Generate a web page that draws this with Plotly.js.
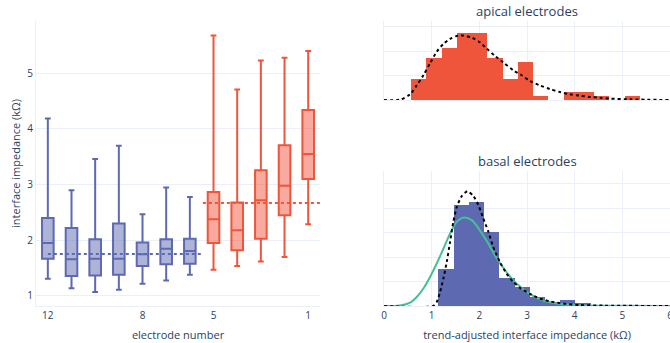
<!DOCTYPE html>
<html>
<head>
<meta charset="utf-8">
<script src="https://cdn.plot.ly/plotly-3.0.1.min.js"></script>
<style>html,body{margin:0;padding:0;background:#fff;}</style>
</head>
<body>
<div id="chart" style="width:670px;height:343px;"></div>
<script>
// ---- Box plot data (electrode number -> impedance, kΩ) ----
const basalElectrodes = [12, 11, 10, 9, 8, 7, 6];
const basalLower  = [1.31, 1.14, 1.07, 1.11, 1.22, 1.28, 1.38];
const basalQ1     = [1.67, 1.36, 1.37, 1.38, 1.54, 1.57, 1.58];
const basalMedian = [1.95, 1.66, 1.67, 1.67, 1.75, 1.85, 1.81];
const basalQ3     = [2.40, 2.22, 2.02, 2.30, 1.96, 2.02, 2.03];
const basalUpper  = [4.19, 2.90, 3.46, 3.70, 2.47, 2.95, 2.78];

const apicalElectrodes = [5, 4, 3, 2, 1];
const apicalLower  = [1.47, 1.54, 1.62, 1.70, 2.29];
const apicalQ1     = [1.95, 1.82, 2.03, 2.45, 3.10];
const apicalMedian = [2.38, 2.18, 2.72, 2.98, 3.55];
const apicalQ3     = [2.87, 2.68, 3.26, 3.71, 4.34];
const apicalUpper  = [5.68, 4.71, 5.23, 5.28, 5.40];

// mean reference lines
const basalMeanX = [12, 5.5];
const basalMeanY = [1.755, 1.755];
const apicalMeanX = [5.45, 0.5];
const apicalMeanY = [2.67, 2.67];

const xTickVals = [12, 8, 5, 1];

// ---- Histograms (probability density) ----
const apicalBinCenters = [0.726, 1.046, 1.367, 1.687, 2.007, 2.327, 2.648, 2.968, 3.288, 3.609, 3.929, 4.249, 4.570, 4.890, 5.210];
const apicalDensity    = [0.174, 0.346, 0.423, 0.552, 0.552, 0.346, 0.174, 0.314, 0.032, 0, 0.063, 0.063, 0.032, 0, 0.032];

const basalBinCenters = [1.299, 1.619, 1.938, 2.258, 2.578, 2.898, 3.217, 3.537, 3.857, 4.176];
const basalDensity    = [0.300, 0.826, 0.850, 0.604, 0.227, 0.156, 0.074, 0.030, 0.047, 0.022];

// ---- Fitted curves ----
const apicalFitX = [0, 0.34, 0.545, 0.685, 0.825, 0.965, 1.105, 1.245, 1.385, 1.56, 1.66, 1.84, 2.01, 2.15, 2.33, 2.50, 2.71, 2.88, 3.06, 3.27, 3.48, 3.69, 3.90, 4.11, 4.32, 4.53, 4.74, 5.16, 6.0];
const apicalFitY = [0, 0.004, 0.047, 0.12, 0.203, 0.30, 0.395, 0.458, 0.50, 0.527, 0.527, 0.51, 0.472, 0.423, 0.36, 0.308, 0.244, 0.205, 0.156, 0.12, 0.09, 0.066, 0.047, 0.036, 0.025, 0.02, 0.012, 0.006, 0];

const basalFitX = [0, 1.03, 1.105, 1.175, 1.245, 1.315, 1.385, 1.454, 1.525, 1.63, 1.75, 1.875, 1.98, 2.083, 2.19, 2.29, 2.43, 2.57, 2.71, 2.85, 3.06, 3.27, 3.48, 3.76, 4.11, 4.6, 6];
const basalFitY = [0, 0, 0.033, 0.115, 0.225, 0.36, 0.525, 0.69, 0.81, 0.90, 0.94, 0.90, 0.826, 0.716, 0.607, 0.484, 0.36, 0.265, 0.197, 0.15, 0.10, 0.06, 0.038, 0.02, 0.008, 0.003, 0];

const basalNormX = [0, 0.335, 0.545, 0.685, 0.825, 0.965, 1.105, 1.245, 1.385, 1.525, 1.68, 1.84, 2.01, 2.19, 2.36, 2.54, 2.71, 2.89, 3.06, 3.27, 3.48, 3.76, 4.11, 4.6, 6];
const basalNormY = [0, 0.005, 0.028, 0.074, 0.143, 0.238, 0.348, 0.47, 0.593, 0.689, 0.725, 0.703, 0.62, 0.51, 0.393, 0.293, 0.21, 0.148, 0.10, 0.055, 0.03, 0.015, 0.006, 0.002, 0];

const BLUE = 'rgb(93,105,177)';
const RED = '#EF553B';
const GREEN = 'rgb(70,190,150)';
const GRID = '#EBF0F8';
const TXT = '#2a3f5f';

const traces = [
  {type:'box', x: basalElectrodes, q1: basalQ1, median: basalMedian, q3: basalQ3,
   lowerfence: basalLower, upperfence: basalUpper,
   marker:{color: BLUE}, line:{color: BLUE, width:2}, xaxis:'x', yaxis:'y', showlegend:false, hoverinfo:'skip'},
  {type:'box', x: apicalElectrodes, q1: apicalQ1, median: apicalMedian, q3: apicalQ3,
   lowerfence: apicalLower, upperfence: apicalUpper,
   marker:{color: RED}, line:{color: RED, width:2}, xaxis:'x', yaxis:'y', showlegend:false, hoverinfo:'skip'},
  {type:'scatter', mode:'lines', x: basalMeanX, y: basalMeanY, line:{color: BLUE, dash:'dot', width:2},
   xaxis:'x', yaxis:'y', showlegend:false},
  {type:'scatter', mode:'lines', x: apicalMeanX, y: apicalMeanY, line:{color: RED, dash:'dot', width:2},
   xaxis:'x', yaxis:'y', showlegend:false},

  {type:'bar', x: apicalBinCenters, y: apicalDensity, width: 0.3203, marker:{color: RED, line:{width:0}},
   xaxis:'x2', yaxis:'y2', showlegend:false},
  {type:'scatter', mode:'lines', x: apicalFitX, y: apicalFitY, line:{color:'black', dash:'dot', width:2, shape:'spline', smoothing:0.8},
   xaxis:'x2', yaxis:'y2', showlegend:false},

  {type:'bar', x: basalBinCenters, y: basalDensity, width: 0.3197, marker:{color: BLUE, line:{width:0}},
   xaxis:'x3', yaxis:'y3', showlegend:false},
  {type:'scatter', mode:'lines', x: basalNormX, y: basalNormY, line:{color: GREEN, width:2, shape:'spline', smoothing:0.8},
   xaxis:'x3', yaxis:'y3', showlegend:false},
  {type:'scatter', mode:'lines', x: basalFitX, y: basalFitY, line:{color:'black', dash:'dot', width:2, shape:'spline', smoothing:0.6},
   xaxis:'x3', yaxis:'y3', showlegend:false}
];

const axBase = {gridcolor: GRID, linecolor: GRID, zerolinecolor: GRID, ticks:'', automargin:false,
  ticklabeloverflow:'allow', tickfont:{size:10, color: TXT}};

const layout = {
  width: 670, height: 343,
  margin: {l:36, r:0, t:21, b:37.3, pad:0},
  paper_bgcolor:'white', plot_bgcolor:'white',
  font: {family:'"Open Sans", verdana, arial, sans-serif', size:11, color: TXT},
  showlegend:false,
  bargap: 0,
  xaxis: Object.assign({}, axBase, {domain:[0, 0.448], range:[12.5, 0.5], tickvals: xTickVals,
    showgrid:false, zeroline:false, title:{text:'electrode number', font:{size:11}, standoff:10}}),
  yaxis: Object.assign({}, axBase, {domain:[0,1], range:[0.82, 5.94], dtick:1, zeroline:false,
    title:{text:'interface impedance (kΩ)', font:{size:11}, standoff:4}}),
  xaxis2: Object.assign({}, axBase, {domain:[0.549, 1], anchor:'y2', range:[0,6], dtick:1, showticklabels:false, zeroline:false}),
  yaxis2: Object.assign({}, axBase, {domain:[0.7225, 1], anchor:'x2', range:[0, 0.646], dtick:0.2, showticklabels:false, zeroline:true, zerolinewidth:1}),
  xaxis3: Object.assign({}, axBase, {domain:[0.549, 1], anchor:'y3', range:[0,6], dtick:1, zeroline:false,
    title:{text:'trend-adjusted interface impedance (kΩ)', font:{size:11}, standoff:10}}),
  yaxis3: Object.assign({}, axBase, {domain:[0, 0.473], anchor:'x3', range:[0, 1.104], dtick:0.2, showticklabels:false, zeroline:true, zerolinewidth:1}),
  annotations: [
    {text:'apical electrodes', xref:'paper', yref:'paper', x:0.7745, y:1, xanchor:'center', yanchor:'bottom', yshift:-1,
     showarrow:false, font:{size:13, color: TXT}},
    {text:'basal electrodes', xref:'paper', yref:'paper', x:0.7745, y:0.473, xanchor:'center', yanchor:'bottom', yshift:-1,
     showarrow:false, font:{size:13, color: TXT}}
  ]
};

Plotly.newPlot('chart', traces, layout, {displayModeBar:false, staticPlot:true});
</script>
</body>
</html>
